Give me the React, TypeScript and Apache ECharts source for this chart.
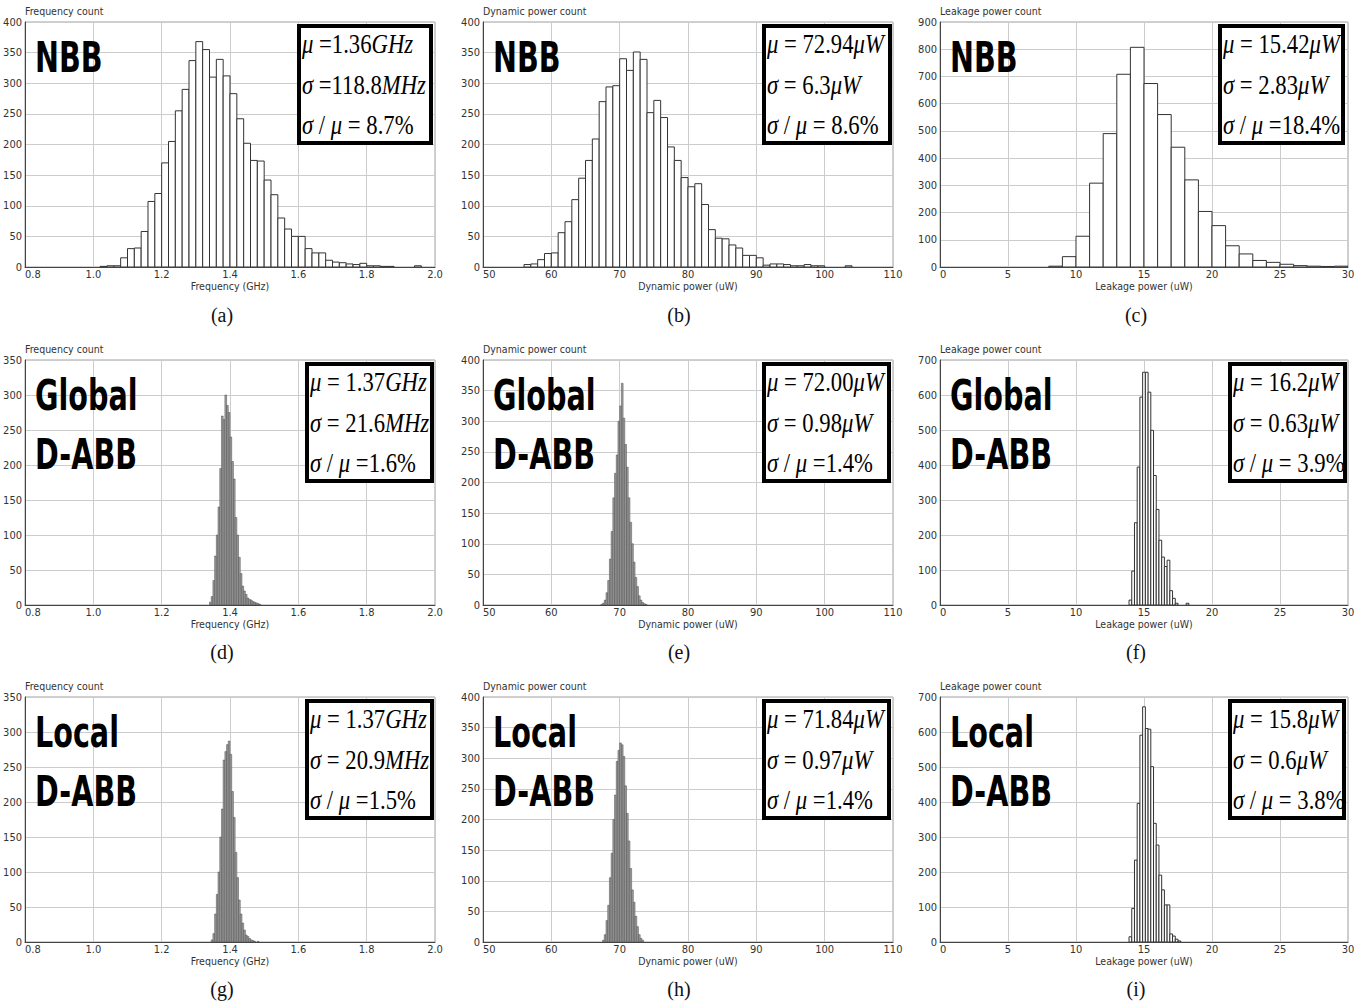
import React, { useEffect, useRef } from "react";
import * as echarts from "echarts";

// ---------- Histogram data (bin start, bin width, counts) ----------
// (a) Frequency, NBB
const freqNBBStart = 1.02;
const freqNBBBin = 0.02;
const freqNBBCounts = [1, 2, 2, 15, 30, 31, 58, 107, 120, 170, 205, 255, 290, 337, 368, 355, 310, 339, 312, 283, 242, 202, 174, 173, 142, 118, 80, 62, 50, 50, 30, 23, 23, 11, 8, 7, 5, 4, 6, 2, 2, 1, 1, 0, 0, 0, 2];
// (b) Dynamic power, NBB
const dynNBBStart = 56;
const dynNBBBin = 1;
const dynNBBCounts = [4, 5, 12, 22, 23, 56, 74, 110, 145, 174, 209, 270, 294, 296, 340, 321, 351, 339, 252, 272, 244, 196, 174, 146, 131, 136, 102, 61, 47, 46, 36, 31, 19, 19, 15, 3, 5, 5, 4, 2, 2, 4, 2, 2, 0, 0, 0, 2];
// (c) Leakage power, NBB
const leakNBBStart = 8;
const leakNBBBin = 1;
const leakNBBCounts = [3, 38, 113, 308, 490, 708, 807, 674, 560, 440, 320, 204, 152, 78, 48, 24, 17, 10, 5, 3, 2, 3];
// (d) Frequency, Global D-ABB
const freqGlobalStart = 1.34;
const freqGlobalBin = 0.005;
const freqGlobalCounts = [4, 12, 35, 70, 100, 140, 195, 270, 265, 300, 285, 275, 240, 205, 180, 125, 100, 68, 45, 27, 20, 15, 10, 8, 7, 5, 4, 3, 2, 1];
// (e) Dynamic power, Global D-ABB
const dynGlobalStart = 67.25;
const dynGlobalBin = 0.25;
const dynGlobalCounts = [1, 3, 8, 20, 40, 75, 120, 175, 215, 245, 300, 325, 362, 305, 262, 225, 175, 135, 100, 70, 45, 30, 15, 8, 4, 2, 1];
// (f) Leakage power, Global D-ABB
const leakGlobalStart = 13.9;
const leakGlobalBin = 0.2;
const leakGlobalCounts = [14, 97, 235, 394, 594, 665, 665, 608, 499, 370, 273, 185, 137, 110, 128, 41, 19, 5, 0, 0, 0, 5];
// (g) Frequency, Local D-ABB
const freqLocalStart = 1.345;
const freqLocalBin = 0.005;
const freqLocalCounts = [3, 12, 40, 68, 100, 150, 190, 260, 272, 282, 287, 268, 215, 178, 128, 92, 60, 40, 27, 17, 10, 8, 5, 3, 2, 1, 0, 1];
// (h) Dynamic power, Local D-ABB
const dynLocalStart = 67.5;
const dynLocalBin = 0.25;
const dynLocalCounts = [3, 12, 35, 60, 105, 145, 200, 240, 295, 313, 325, 322, 303, 255, 210, 165, 120, 85, 65, 42, 25, 12, 6, 3];
// (i) Leakage power, Local D-ABB
const leakLocalStart = 13.9;
const leakLocalBin = 0.2;
const leakLocalCounts = [15, 96, 234, 396, 591, 672, 610, 608, 501, 339, 277, 191, 149, 106, 106, 23, 17, 8, 3];

// ---------- Axes ----------
const xAxisNames = ["Frequency (GHz)", "Dynamic power (uW)", "Leakage power (uW)"];
const yAxisNames = ["Frequency count", "Dynamic power count", "Leakage power count"];
const xMins = [0.8, 50, 0];
const xMaxs = [2.0, 110, 30];
const xIntervals = [0.2, 10, 5];
const xDecimals = [1, 0, 0];
const yMaxs = [400, 400, 900, 350, 400, 700, 350, 400, 700];
const yIntervals = [50, 50, 100, 50, 50, 100, 50, 50, 100];

// ---------- Texts ----------
const rowLabels = [["NBB"], ["Global", "D-ABB"], ["Local", "D-ABB"]];
const statLines = [
  ["{i|μ} =1.36{i|GHz}", "{i|σ} =118.8{i|MHz}", "{i|σ} / {i|μ} = 8.7%"],
  ["{i|μ} = 72.94{i|μW}", "{i|σ} = 6.3{i|μW}", "{i|σ} / {i|μ} = 8.6%"],
  ["{i|μ} = 15.42{i|μW}", "{i|σ} = 2.83{i|μW}", "{i|σ} / {i|μ} =18.4%"],
  ["{i|μ} = 1.37{i|GHz}", "{i|σ} = 21.6{i|MHz}", "{i|σ} / {i|μ} =1.6%"],
  ["{i|μ} = 72.00{i|μW}", "{i|σ} = 0.98{i|μW}", "{i|σ} / {i|μ} =1.4%"],
  ["{i|μ} = 16.2{i|μW}", "{i|σ} = 0.63{i|μW}", "{i|σ} / {i|μ} = 3.9%"],
  ["{i|μ} = 1.37{i|GHz}", "{i|σ} = 20.9{i|MHz}", "{i|σ} / {i|μ} =1.5%"],
  ["{i|μ} = 71.84{i|μW}", "{i|σ} = 0.97{i|μW}", "{i|σ} / {i|μ} =1.4%"],
  ["{i|μ} = 15.8{i|μW}", "{i|σ} = 0.6{i|μW}", "{i|σ} / {i|μ} = 3.8%"],
];
const captions = ["(a)", "(b)", "(c)", "(d)", "(e)", "(f)", "(g)", "(h)", "(i)"];

// ---------- Layout ----------
const colLeft = [25, 483, 940];
const colWidth = [410, 410, 408];
const rowTop = [22, 360, 697];
const rowHeight = 245;
const captionX = [222, 679, 1136];
const captionY = [315, 652, 989];
const boxLeft = [297, 762, 1218, 305, 762, 1228, 305, 762, 1228];
const boxRight = [433, 892, 1345, 434, 891, 1347, 434, 891, 1346];

const histograms = [
  { start: freqNBBStart, bin: freqNBBBin, counts: freqNBBCounts, gray: false },
  { start: dynNBBStart, bin: dynNBBBin, counts: dynNBBCounts, gray: false },
  { start: leakNBBStart, bin: leakNBBBin, counts: leakNBBCounts, gray: false },
  { start: freqGlobalStart, bin: freqGlobalBin, counts: freqGlobalCounts, gray: true },
  { start: dynGlobalStart, bin: dynGlobalBin, counts: dynGlobalCounts, gray: true },
  { start: leakGlobalStart, bin: leakGlobalBin, counts: leakGlobalCounts, gray: false },
  { start: freqLocalStart, bin: freqLocalBin, counts: freqLocalCounts, gray: true },
  { start: dynLocalStart, bin: dynLocalBin, counts: dynLocalCounts, gray: true },
  { start: leakLocalStart, bin: leakLocalBin, counts: leakLocalCounts, gray: false },
];

const smallFont = '"DejaVu Sans Condensed", "DejaVu Sans", sans-serif';
const boldFont = '"DejaVu Sans Condensed", "DejaVu Sans", sans-serif';
const serifFont = '"Liberation Serif", "DejaVu Serif", serif';

function buildOption() {
  const grids: any[] = [];
  const xAxes: any[] = [];
  const yAxes: any[] = [];
  const series: any[] = [];
  const graphics: any[] = [];

  for (let p = 0; p < 9; p++) {
    const r = Math.floor(p / 3);
    const c = p % 3;
    grids.push({
      left: colLeft[c],
      top: rowTop[r],
      width: colWidth[c],
      height: rowHeight,
      show: true,
      borderColor: "#a0a0a0",
      borderWidth: 1,
      backgroundColor: "#fff",
    });
    const dec = xDecimals[c];
    xAxes.push({
      type: "value",
      gridIndex: p,
      min: xMins[c],
      max: xMaxs[c],
      interval: xIntervals[c],
      name: xAxisNames[c],
      nameLocation: "middle",
      nameGap: 7,
      nameTextStyle: { fontFamily: smallFont, fontSize: 10.5, color: "#333" },
      axisLine: { show: true, lineStyle: { color: "#444", width: 1 } },
      axisTick: { show: false },
      axisLabel: {
        margin: 2,
        fontFamily: smallFont,
        fontSize: 11,
        color: "#333",
        alignMinLabel: "left",
        formatter: (v: number) => v.toFixed(dec),
      },
      splitLine: { show: true, lineStyle: { color: "#cccccc", width: 1 } },
    });
    yAxes.push({
      type: "value",
      gridIndex: p,
      min: 0,
      max: yMaxs[p],
      interval: yIntervals[p],
      name: yAxisNames[c],
      nameLocation: "end",
      nameGap: 6,
      nameTextStyle: { fontFamily: smallFont, fontSize: 10.5, color: "#333", align: "left" },
      axisLine: { show: true, lineStyle: { color: "#444", width: 1 } },
      axisTick: { show: false },
      axisLabel: {
        margin: 3,
        fontFamily: smallFont,
        fontSize: 11,
        color: "#333",
      },
      splitLine: { show: true, lineStyle: { color: "#cccccc", width: 1 } },
    });

    const h = histograms[p];
    const data = h.counts
      .map((cnt, i) => [h.start + i * h.bin, h.start + (i + 1) * h.bin, cnt])
      .filter((d) => d[2] > 0);
    const fill = h.gray ? "#a0a0a0" : "#ffffff";
    const stroke = h.gray ? "#484848" : "#333333";
    const lw = h.gray ? 0.5 : 1;
    series.push({
      type: "custom",
      xAxisIndex: p,
      yAxisIndex: p,
      clip: true,
      encode: { x: [0, 1], y: 2 },
      data,
      renderItem: (params: any, api: any) => {
        const x0 = api.value(0);
        const x1 = api.value(1);
        const cnt = api.value(2);
        const pTop = api.coord([x0, cnt]);
        const pBot = api.coord([x1, 0]);
        return {
          type: "rect",
          shape: {
            x: pTop[0],
            y: pTop[1],
            width: pBot[0] - pTop[0],
            height: pBot[1] - pTop[1],
          },
          style: { fill, stroke, lineWidth: lw },
        };
      },
    });

    // Row label (NBB / Global D-ABB / Local D-ABB)
    const labels = rowLabels[r];
    labels.forEach((txt, k) => {
      graphics.push({
        type: "text",
        x: colLeft[c] + 10,
        y: rowTop[r] + 35 + k * 59,
        scaleX: 0.74,
        z: 100,
        style: {
          text: txt,
          fontFamily: boldFont,
          fontWeight: "bold",
          fontSize: 43,
          fill: "#000",
          align: "left",
          verticalAlign: "middle",
        },
      });
    });

    // Statistic box
    const bTop = rowTop[r] + 2;
    const bL = boxLeft[p];
    const bR = boxRight[p];
    graphics.push({
      type: "rect",
      z: 100,
      shape: { x: bL + 2, y: bTop + 2, width: bR - bL - 4, height: 117 },
      style: { fill: "#fff", stroke: "#000", lineWidth: 4 },
    });
    statLines[p].forEach((line, k) => {
      graphics.push({
        type: "text",
        x: bL + 5,
        y: bTop + 20 + k * 40.5,
        scaleX: 0.84,
        z: 101,
        style: {
          text: line,
          fontFamily: serifFont,
          fontSize: 27,
          fill: "#000",
          align: "left",
          verticalAlign: "middle",
          rich: {
            i: { fontFamily: serifFont, fontSize: 27, fontStyle: "italic", fill: "#000" },
          },
        },
      });
    });

    // Caption
    graphics.push({
      type: "text",
      x: captionX[c],
      y: captionY[r],
      z: 100,
      style: {
        text: captions[p],
        fontFamily: serifFont,
        fontSize: 20,
        fill: "#111",
        align: "center",
        verticalAlign: "middle",
      },
    });
  }

  return {
    animation: false,
    backgroundColor: "#ffffff",
    grid: grids,
    xAxis: xAxes,
    yAxis: yAxes,
    series,
    graphic: graphics,
  };
}

export default function App() {
  const ref = useRef<HTMLDivElement>(null);
  useEffect(() => {
    document.body.style.margin = "0";
    if (!ref.current) return;
    const chart = echarts.init(ref.current, undefined, { renderer: "svg" });
    chart.setOption(buildOption() as any);
    return () => chart.dispose();
  }, []);
  return <div ref={ref} style={{ width: 1366, height: 1004 }} />;
}
